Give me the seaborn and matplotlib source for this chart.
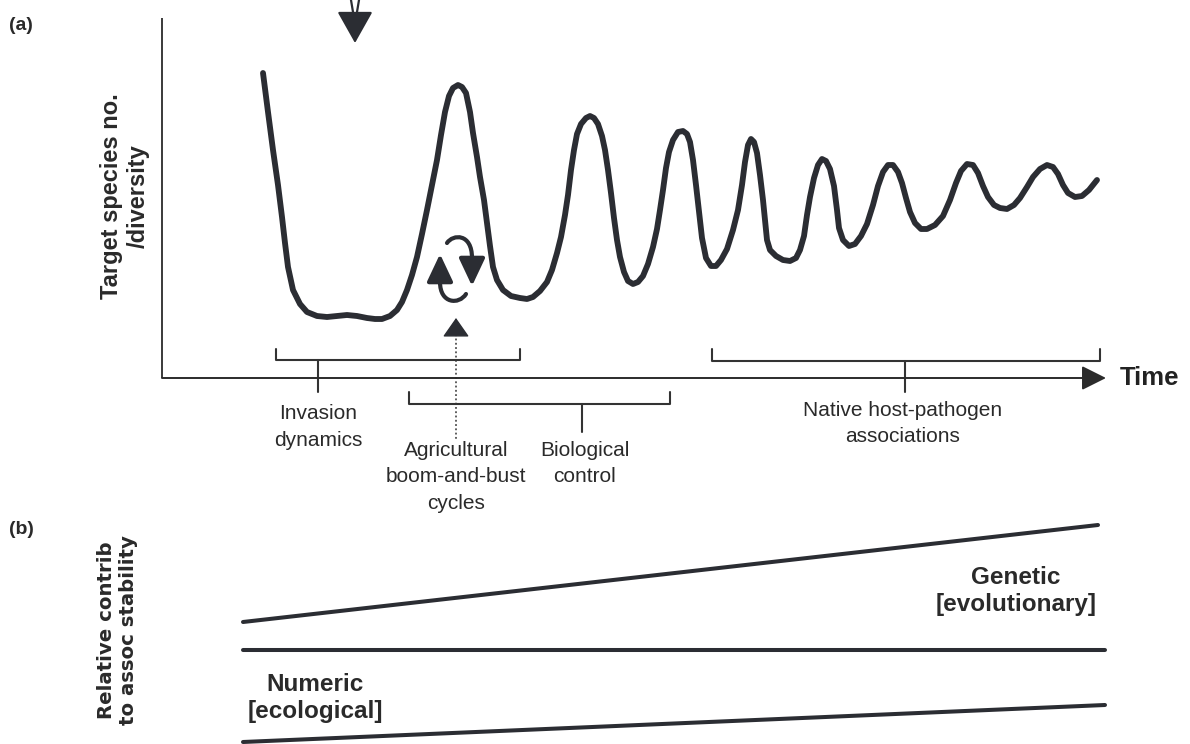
import numpy as np
import pandas as pd
import matplotlib
matplotlib.use("Agg")
import matplotlib.pyplot as plt
import seaborn as sns
from matplotlib.patches import FancyArrowPatch
from matplotlib.path import Path

sns.set_theme(style="white")
plt.rcParams['font.family'] = ['Liberation Sans', 'DejaVu Sans']

INK = '#2b2d33'

# panel (a): population curve (canvas pixels, y down)
curve_x = [263, 268, 273, 278, 282, 285, 288, 293, 300, 307, 317, 327, 337, 347, 357, 367, 375, 382,
           390, 397, 402, 407, 412, 417, 422, 427, 432, 437, 441, 445, 449, 453, 458, 462, 466, 470,
           473, 477, 480, 484, 487, 490, 493, 497, 503, 511, 520, 527, 533, 540, 547, 552, 557, 561,
           565, 568, 571, 574, 577, 581, 586, 590, 594, 598, 602, 605, 608, 611, 614, 617, 620, 624,
           628, 633, 638, 643, 648, 653, 657, 660, 663, 666, 669, 673, 678, 683, 687, 690, 693, 696,
           699, 702, 706, 711, 716, 721, 727, 733, 738, 742, 745, 748, 751, 754, 757, 760, 763, 765,
           767, 770, 776, 783, 790, 796, 800, 804, 807, 810, 814, 818, 822, 826, 830, 834, 837, 839,
           843, 849, 855, 861, 867, 873, 878, 883, 888, 893, 898, 902, 906, 910, 915, 921, 927, 935,
           943, 950, 956, 961, 967, 973, 978, 983, 988, 994, 1000, 1007, 1014, 1020, 1027, 1033, 1040,
           1047, 1053, 1058, 1063, 1068, 1075, 1082, 1089, 1097]
curve_y = [73, 112, 150, 185, 217, 243, 267, 290, 304, 312, 316, 317, 316, 315, 316, 318, 319, 319,
           316, 310, 302, 290, 275, 257, 234, 210, 185, 160, 135, 112, 96, 88, 85, 87, 93, 112,
           133, 157, 177, 200, 223, 246, 267, 280, 290, 296, 298, 299, 297, 291, 282, 270, 253, 237,
           215, 195, 170, 150, 134, 124, 118, 116, 118, 124, 136, 150, 170, 193, 218, 240, 257, 272,
           281, 284, 282, 276, 264, 247, 229, 210, 190, 168, 152, 140, 132, 131, 134, 142, 160, 185,
           212, 238, 258, 266, 266, 260, 249, 230, 210, 185, 162, 145, 139, 142, 153, 175, 200, 220,
           240, 250, 256, 260, 261, 258, 250, 236, 215, 197, 178, 165, 159, 161, 169, 186, 210, 228,
           240, 246, 244, 236, 224, 205, 186, 172, 165, 165, 172, 183, 198, 212, 223, 229, 229, 225,
           216, 200, 183, 171, 164, 165, 173, 186, 197, 205, 208, 209, 205, 198, 187, 177, 169,
           165, 167, 174, 185, 193, 197, 196, 190, 180]

# period brackets under/over the time axis
brk_left = [276, 409, 712]
brk_right = [520, 670, 1100]
brk_mid = [318, 582, 905]
brk_end_y = [349, 392, 349]
brk_bar_y = [360, 404, 361]
brk_tip_y = [392, 432, 392]

period_labels = ['Invasion\ndynamics', 'Agricultural\nboom-and-bust\ncycles',
                 'Biological\ncontrol', 'Native host-pathogen\nassociations']
period_x = [318, 456, 585, 903]
period_y = [404, 441, 441, 401]

# panel (b): boundaries between numeric and genetic contributions
b_lines = pd.DataFrame({
    'x': [243, 1098, 243, 1105, 243, 1105],
    'y': [622, 525, 650, 650, 742, 705],
    'line': ['genetic', 'genetic', 'divider', 'divider', 'numeric', 'numeric'],
})

fig = plt.figure(figsize=(11.9, 7.44), dpi=100)
ax = fig.add_axes([0, 0, 1, 1])
ax.set_xlim(0, 1190)
ax.set_ylim(744, 0)
ax.axis('off')

# axes of panel (a)
ax.plot([162, 162], [18, 378], color='#3a3a3a', lw=1.4, solid_capstyle='butt')
ax.annotate('', xy=(1106, 378), xytext=(162, 378),
            arrowprops=dict(arrowstyle='-|>,head_length=0.6,head_width=0.3', mutation_scale=25,
                            color='#2b2b2b', lw=1.4, shrinkA=0, shrinkB=0))
ax.text(1120, 378, 'Time', fontsize=18.5, fontweight='bold', va='center', ha='left', color='#222')

sns.lineplot(x=curve_x, y=curve_y, sort=False, estimator=None, ax=ax, color=INK, lw=4.2,
             solid_capstyle='round', solid_joinstyle='round')

# brackets
for l, r, m, ye, yb, yt in zip(brk_left, brk_right, brk_mid, brk_end_y, brk_bar_y, brk_tip_y):
    ax.plot([l, l, r, r], [ye, yb, yb, ye], color='#333', lw=1.5, solid_joinstyle='round')
    ax.plot([m, m], [yb, yt], color='#333', lw=1.5)

for lab, x, y in zip(period_labels, period_x, period_y):
    ax.text(x, y, lab, fontsize=15, ha='center', va='top', linespacing=1.5, color='#2a2a2a')

# top arrow
ax.plot([351, 355], [0, 24], color=INK, lw=1.6)
ax.plot([359, 355], [0, 24], color=INK, lw=1.6)
ax.annotate('', xy=(355, 43), xytext=(355, 15),
            arrowprops=dict(arrowstyle='-|>,head_length=0.8,head_width=0.45', mutation_scale=25,
                            color=INK, lw=1.6, shrinkA=0, shrinkB=0))

# dotted pointer to boom-and-bust cycle
ax.plot([456, 456], [330, 440], color='#333', lw=1.1, ls=(0, (1.2, 1.6)))
ax.annotate('', xy=(456, 318), xytext=(456, 331),
            arrowprops=dict(arrowstyle='-|>,head_length=0.5,head_width=0.35', mutation_scale=24,
                            color=INK, lw=1, shrinkA=0, shrinkB=0))

# cycling arrows
cyc = Path.CURVE4
arc_paths = [
    Path([(466, 294), (459, 305), (440, 304), (440, 282), (440, 254)],
         [Path.MOVETO, cyc, cyc, cyc, Path.LINETO]),
    Path([(447, 243), (453, 234), (472, 233), (472, 258), (472, 286)],
         [Path.MOVETO, cyc, cyc, cyc, Path.LINETO]),
]
for p in arc_paths:
    ax.add_patch(FancyArrowPatch(path=p, arrowstyle='-|>,head_length=0.7,head_width=0.33',
                                 mutation_scale=24, color=INK, lw=3.0,
                                 transform=ax.transData))

ax.text(125, 196, 'Target species no.\n/diversity', rotation=90, fontsize=17, fontweight='bold',
        ha='center', va='center', linespacing=1.25, color='#2a2a2a')
ax.text(9, 25, '(a)', fontsize=14, fontweight='bold', va='center', color='#2a2a2a')
ax.text(9, 530, '(b)', fontsize=14, fontweight='bold', va='center', color='#2a2a2a')

# panel (b)
sns.lineplot(data=b_lines, x='x', y='y', hue='line', palette=[INK, INK, INK], legend=False,
             ax=ax, lw=2.9, estimator=None, sort=False)
ax.text(117, 630, 'Relative contrib\nto assoc stability', rotation=90, fontsize=14.2,
        fontweight='bold', ha='center', va='center', linespacing=1.2, color='#2a2a2a',
        family='DejaVu Sans')
ax.text(1016, 591, 'Genetic\n[evolutionary]', fontsize=17.5, fontweight='bold', ha='center',
        va='center', linespacing=1.25, color='#2a2a2a')
ax.text(315, 698, 'Numeric\n[ecological]', fontsize=17.5, fontweight='bold', ha='center',
        va='center', linespacing=1.25, color='#2a2a2a')

fig.savefig('out.png', dpi=100)
